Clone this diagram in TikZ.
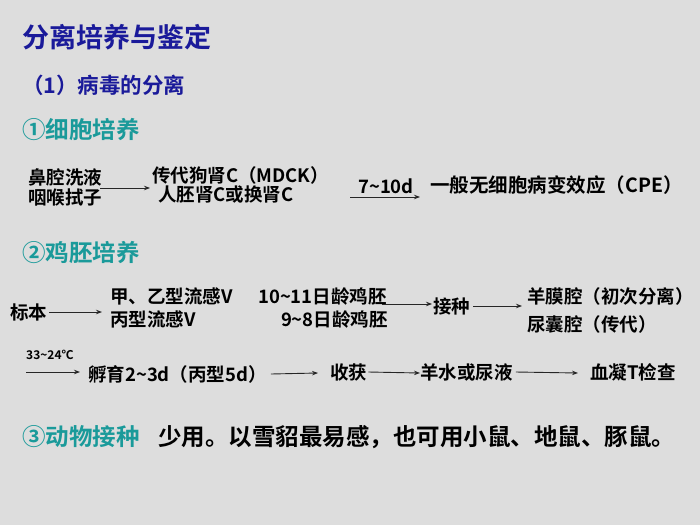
\documentclass[tikz,border=0pt]{standalone}
\usepackage{fontspec}
\setmainfont{Noto Sans CJK SC}[BoldFont={* Bold}]
\usetikzlibrary{arrows.meta}
\definecolor{bg}{HTML}{DDDDDD}
\definecolor{ttl}{HTML}{1A1A9A}
\definecolor{tea}{HTML}{1A9A9A}
\tikzset{
 t/.style={anchor=west,inner sep=0pt,font=\bfseries\fontsize{18.5}{19}\selectfont},
 hd/.style={anchor=west,inner sep=0pt,text=tea,font=\bfseries\fontsize{23.5}{24}\selectfont},
 ar/.style={-{Stealth[length=6pt,width=4.5pt]},line width=0.9pt,draw=black!85}
}
\begin{document}
\begin{tikzpicture}[x=1pt,y=-1pt]
\fill[bg] (0,0) rectangle (700,525);
\useasboundingbox (0,0) rectangle (700,525);
\node[anchor=west,inner sep=0pt,text=ttl,font=\bfseries\fontsize{27}{28}\selectfont] (title) at (22,37) {分离培养与鉴定};
\node[anchor=west,inner sep=0pt,text=ttl,font=\bfseries\fontsize{21.5}{22}\selectfont] (sub) at (22,85) {（1）病毒的分离};
\node[hd] (h1) at (22,130) {①细胞培养};
\node[t] (a1) at (28,177) {鼻腔洗液};
\node[t] (a2) at (28,197) {咽喉拭子};
\node[t] (b1) at (152,175) {传代狗肾C（MDCK）};
\node[t] (b2) at (158,195) {人胚肾C或换肾C};
\node[t] (d) at (358,186) {7\textasciitilde10d};
\coordinate (ds) at (350,197);
\coordinate (de) at (420,197);
\node[t,font=\bfseries\fontsize{19.5}{20}\selectfont] (cpe) at (430,185) {一般无细胞病变效应（CPE）};
\draw[ar] (100,188) -- (150,188);
\draw[ar] (ds) -- (de);
\node[hd] (h2) at (22,253) {②鸡胚培养};
\node[t] (bb) at (10,312) {标本};
\node[t] (c1) at (110,296) {甲、乙型流感V};
\node[t] (c2) at (110,319) {丙型流感V};
\node[t] (e1) at (258,296) {10\textasciitilde11日龄鸡胚};
\node[t,anchor=east] (e2) at (388,319) {9\textasciitilde8日龄鸡胚};
\node[t] (jz) at (433,306) {接种};
\node[t] (f1) at (527,296) {羊膜腔（初次分离）};
\node[t] (f2) at (527,324) {尿囊腔（传代）};
\draw[ar] (bb.east) ++(2,0) -- (102,312);
\draw[ar] (e1.east) ++(-5,8) -- (432,304);
\draw[ar] (jz.east) ++(3,0) -- (522,306);
\node[anchor=west,inner sep=0pt,font=\bfseries\fontsize{12}{13}\selectfont] (tmp) at (26,355) {33\textasciitilde24℃};
\coordinate (ts) at (26,372);
\node[t] (fy) at (88,374) {孵育2\textasciitilde3d（丙型5d）};
\node[t] (sh) at (330,372) {收获};
\node[t] (ys) at (420,372) {羊水或尿液};
\node[t] (xn) at (590,372) {血凝T检查};
\draw[ar] (ts) -- (80,372);
\draw[ar] (fy.east) ++(4,0) -- (318,373);
\draw[ar] (sh.east) ++(1,0) -- (420,373);
\draw[ar] (ys.east) ++(3,0) -- (578,373);
\node[hd] (h3) at (22,437) {③动物接种};
\node[anchor=west,inner sep=0pt,font=\bfseries\fontsize{23.5}{24}\selectfont] (an) at (h3.east) {\hspace{18pt}少用。以雪貂最易感，也可用小鼠、地鼠、豚鼠。};
\end{tikzpicture}
\end{document}
